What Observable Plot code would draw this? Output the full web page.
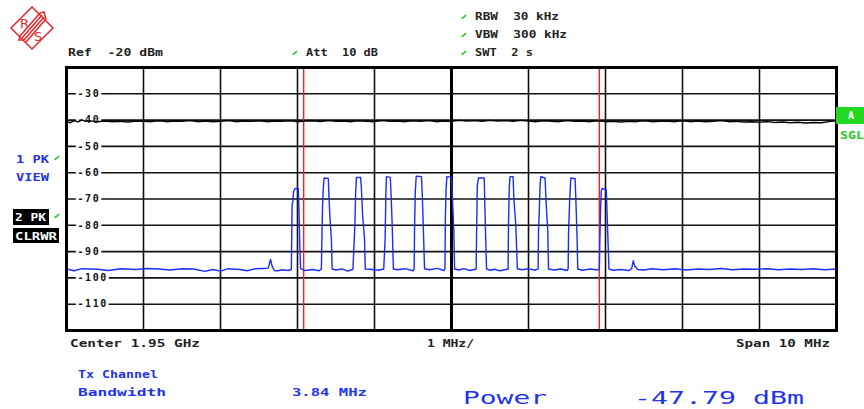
<!DOCTYPE html>
<html>
<head>
<meta charset="utf-8">
<script src="https://cdn.jsdelivr.net/npm/d3@7"></script>
<script src="https://cdn.jsdelivr.net/npm/@observablehq/plot@0.6"></script>
<style>
  html, body { margin: 0; padding: 0; background: #fff; }
  #wrap { position: relative; width: 864px; height: 409px; overflow: hidden; }
  #wrap > svg { position: absolute; left: 0; top: 0; }
</style>
</head>
<body>
<div id="wrap"></div>
<script>
// ---- data ----
const yTicks = [-30, -40, -50, -60, -70, -80, -90, -100, -110];
const xGrid = [-4, -3, -2, -1, 1, 2, 3, 4];          // MHz offset from center
const channelEdges = [-1.92, 1.92];                  // Tx channel 3.84 MHz

// Trace 1 (PK, VIEW) – black, around -40 dBm  [MHz, dBm]
const trace1 = [
  [-5.0,-40.6],[-4.95,-41.0],[-4.9,-40.2],[-4.85,-40.7],[-4.8,-39.9],[-4.75,-40.5],[-4.7,-40.3],[-4.6,-40.6],
  [-4.5,-40.4],[-4.4,-40.6],[-4.3,-40.5],[-4.2,-40.7],[-4.1,-40.4],[-4.0,-40.5],[-3.9,-40.6],[-3.8,-40.3],
  [-3.7,-40.6],[-3.6,-40.4],[-3.5,-40.5],[-3.4,-40.2],[-3.3,-40.6],[-3.2,-40.4],[-3.1,-40.6],[-3.0,-40.5],
  [-2.9,-40.2],[-2.8,-40.6],[-2.7,-40.4],[-2.6,-40.5],[-2.5,-40.3],[-2.4,-40.6],[-2.3,-40.4],[-2.2,-40.5],
  [-2.1,-40.3],[-2.0,-40.6],[-1.9,-40.4],[-1.8,-40.3],[-1.7,-40.6],[-1.6,-40.2],[-1.5,-40.5],[-1.4,-40.4],
  [-1.3,-40.6],[-1.2,-40.3],[-1.1,-40.5],[-1.0,-40.6],[-0.9,-40.2],[-0.8,-40.5],[-0.7,-40.4],[-0.6,-40.6],
  [-0.5,-40.3],[-0.4,-40.5],[-0.3,-40.2],[-0.2,-40.6],[-0.1,-40.4],[0.0,-40.5],[0.1,-40.1],[0.2,-40.4],
  [0.3,-40.2],[0.4,-40.5],[0.5,-40.1],[0.6,-40.4],[0.7,-40.2],[0.8,-40.5],[0.9,-40.1],[1.0,-40.4],
  [1.1,-40.6],[1.2,-40.3],[1.3,-40.5],[1.4,-40.6],[1.5,-40.2],[1.6,-40.5],[1.7,-40.4],[1.8,-40.6],
  [1.9,-40.3],[2.0,-40.6],[2.1,-40.5],[2.2,-40.7],[2.3,-40.5],[2.4,-40.6],[2.5,-40.3],[2.6,-40.6],
  [2.7,-40.5],[2.8,-40.4],[2.9,-40.6],[3.0,-40.3],[3.1,-40.6],[3.2,-40.4],[3.3,-40.6],[3.4,-40.5],
  [3.5,-40.2],[3.6,-40.6],[3.7,-40.5],[3.8,-40.7],[3.9,-40.6],[4.0,-40.8],[4.1,-40.6],[4.2,-40.9],
  [4.3,-40.7],[4.4,-41.0],[4.5,-40.8],[4.6,-41.1],[4.7,-40.9],[4.8,-41.0],[4.9,-40.6],[5.0,-40.3]
];

// Trace 2 (PK, CLRWR) – blue, bursts on a -96.6 dBm floor  [MHz, dBm]
const trace2 = [
  [-5.0,-96.6],[-4.9,-97.3],[-4.8,-96.5],[-4.6,-96.7],[-4.45,-97.2],[-4.3,-96.5],[-4.1,-96.8],[-3.95,-96.4],
  [-3.8,-96.6],[-3.65,-97.0],[-3.5,-96.5],[-3.35,-96.6],[-3.2,-97.5],[-3.1,-96.8],[-3.0,-97.4],[-2.9,-96.5],
  [-2.75,-96.8],[-2.65,-97.3],[-2.55,-96.5],[-2.45,-96.4],[-2.38,-96.3],[-2.35,-93.0],[-2.33,-95.5],[-2.3,-97.2],
  [-2.25,-97.3],[-2.2,-96.9],[-2.12,-97.2],[-2.08,-96.8],
  [-2.07,-72],[-2.06,-71],[-2.05,-67],[-2.03,-66],[-1.99,-66],[-1.98,-75],[-1.97,-88],[-1.96,-96.5],
  [-1.9,-97.2],[-1.8,-96.8],[-1.72,-97.3],[-1.69,-96.6],
  [-1.68,-80],[-1.675,-73],[-1.665,-66],[-1.655,-62],[-1.6,-62.2],[-1.59,-70],[-1.575,-79],[-1.56,-85],[-1.55,-96.6],
  [-1.5,-97.0],[-1.42,-96.6],[-1.35,-97.4],[-1.28,-96.7],
  [-1.255,-80],[-1.245,-68],[-1.235,-61.8],[-1.18,-61.8],[-1.17,-66],[-1.155,-76],[-1.13,-85],[-1.12,-96.6],
  [-1.05,-96.7],[-0.95,-97.1],[-0.88,-96.6],
  [-0.862,-85],[-0.852,-68],[-0.845,-61.5],[-0.795,-61.8],[-0.785,-68],[-0.77,-80],[-0.755,-96.6],
  [-0.7,-96.9],[-0.6,-96.5],[-0.5,-97.3],[-0.485,-96.6],
  [-0.48,-82],[-0.47,-67],[-0.458,-61.3],[-0.39,-61.5],[-0.38,-68],[-0.365,-82],[-0.35,-96.5],
  [-0.28,-96.9],[-0.18,-96.4],[-0.1,-97.2],[-0.085,-96.6],
  [-0.08,-78],[-0.07,-66],[-0.06,-61.5],[0.0,-61.7],[0.01,-68],[0.03,-82],[0.04,-96.6],
  [0.1,-97.0],[0.16,-96.5],[0.24,-97.2],[0.32,-96.6],
  [0.325,-85],[0.335,-65],[0.35,-62],[0.425,-62],[0.435,-75],[0.455,-96.6],
  [0.5,-97.1],[0.56,-96.7],[0.63,-97.3],[0.735,-96.6],
  [0.74,-80],[0.75,-66],[0.76,-61.5],[0.8,-61.5],[0.81,-70],[0.835,-80],[0.855,-96.5],
  [0.92,-96.9],[1.0,-96.5],[1.08,-97.1],[1.125,-96.6],
  [1.13,-82],[1.14,-75],[1.15,-65],[1.16,-61.5],[1.215,-62],[1.23,-72],[1.25,-82],[1.26,-96.6],
  [1.33,-97.0],[1.42,-96.6],[1.5,-97.2],[1.515,-96.6],
  [1.52,-83],[1.535,-70],[1.55,-62],[1.605,-62.3],[1.615,-70],[1.63,-84],[1.64,-96.6],
  [1.7,-97.1],[1.8,-96.6],[1.9,-97.0],[1.92,-96.6],
  [1.925,-88],[1.935,-75],[1.945,-67],[1.955,-66],[2.01,-66.5],[2.02,-75],[2.035,-88],[2.045,-96.6],
  [2.1,-97.1],[2.2,-96.8],[2.3,-97.2],[2.34,-96.5],[2.36,-93.5],[2.38,-95.5],[2.42,-96.8],[2.5,-97.0],
  [2.6,-96.5],[2.75,-96.9],[2.9,-96.5],[3.05,-97.0],[3.2,-96.6],[3.35,-96.8],[3.5,-96.4],[3.65,-96.9],
  [3.8,-96.6],[3.95,-96.7],[4.1,-96.5],[4.25,-96.9],[4.4,-96.6],[4.55,-96.8],[4.7,-96.5],[4.85,-96.9],[5.0,-96.6]
];

// Annotation texts (analyzer screen)
const headerLabels = ["Ref  -20 dBm", "Att  10 dB", "RBW  30 kHz", "VBW  300 kHz", "SWT  2 s"];
const traceLabels = ["1 PK", "VIEW", "2 PK", "CLRWR"];
const footerLabels = ["Center 1.95 GHz", "1 MHz/", "Span 10 MHz"];
const resultLabels = ["Tx Channel", "Bandwidth", "3.84 MHz", "Power", "-47.79 dBm"];

// ---- chart ----
const mono = "DejaVu Sans Mono";
const plot = Plot.plot({
  width: 864,
  height: 409,
  marginLeft: 66,
  marginRight: 28,
  marginTop: 67,
  marginBottom: 79,
  x: { domain: [-5, 5], axis: null },
  y: { domain: [-120, -20], axis: null },
  style: { background: "transparent", fontFamily: mono, letterSpacing: "1.6px" },
  marks: [
    Plot.ruleY(yTicks, { stroke: "#111", strokeWidth: 1.6 }),
    Plot.ruleX(xGrid, { stroke: "#111", strokeWidth: 1.6 }),
    Plot.ruleX([0], { stroke: "#000", strokeWidth: 3 }),
    Plot.text(yTicks, {
      x: -5, y: d => d, text: d => String(d), textAnchor: "start", dx: 11,
      fontSize: 10, fontWeight: "bold", fill: "#111", stroke: "white", strokeWidth: 6,
      fontFamily: mono
    }),
    Plot.ruleX(channelEdges, { stroke: "#ff1a1a", strokeWidth: 1.4 }),
    Plot.line(trace1, { x: d => d[0], y: d => d[1], stroke: "#000", strokeWidth: 1.4 }),
    Plot.line(trace2, { x: d => d[0], y: d => d[1], stroke: "#1a2cff", strokeWidth: 1.4 }),
    Plot.frame({ stroke: "#000", strokeWidth: 3 })
  ]
});
document.getElementById("wrap").appendChild(plot);

// ---- screen annotations overlay ----
const NS = "http://www.w3.org/2000/svg";
const ov = document.createElementNS(NS, "svg");
ov.setAttribute("width", 864); ov.setAttribute("height", 409);
document.getElementById("wrap").appendChild(ov);

function txt(s, x, y, w, opt = {}) {
  const t = document.createElementNS(NS, "text");
  t.setAttribute("x", x); t.setAttribute("y", y);
  t.setAttribute("font-family", opt.family || mono);
  t.setAttribute("font-size", opt.size || 10.5);
  t.setAttribute("font-weight", opt.weight || "bold");
  t.setAttribute("fill", opt.fill || "#222");
  t.style.whiteSpace = "pre";
  if (w) { t.setAttribute("textLength", w); t.setAttribute("lengthAdjust", "spacingAndGlyphs"); }
  t.textContent = s;
  ov.appendChild(t);
}
function rect(x, y, w, h, fill) {
  const r = document.createElementNS(NS, "rect");
  r.setAttribute("x", x); r.setAttribute("y", y); r.setAttribute("width", w); r.setAttribute("height", h);
  r.setAttribute("fill", fill); ov.appendChild(r);
}
function tick(x, y) { // small green enable mark
  const l = document.createElementNS(NS, "path");
  l.setAttribute("d", `M${x},${y + 4} L${x + 1},${y + 2} M${x + 1},${y + 3} L${x + 4},${y}`);
  l.setAttribute("stroke", "#22c922"); l.setAttribute("stroke-width", 1.6); l.setAttribute("fill", "none");
  ov.appendChild(l);
}

// R&S logo
const g = document.createElementNS(NS, "g");
g.setAttribute("stroke", "#e8262b"); g.setAttribute("fill", "none"); g.setAttribute("stroke-width", "1.5");
g.innerHTML = `
  <path d="M32,7 L53,28 L32,49 L11,28 Z"/>
  <path d="M42,15 L22,38 M44,17 L24,40 M46,19 L26,42 M40,13 L20,36"/>
  <path d="M40,13 L44,12 L46,19 M20,36 L19,40 L24,40"/>`;
ov.appendChild(g);
txt("R", 20, 28, null, { fill: "#e8262b", size: 13, weight: "normal", family: "DejaVu Sans" });
txt("S", 34, 41, null, { fill: "#e8262b", size: 13, weight: "normal", family: "DejaVu Sans" });

// header
txt(headerLabels[0], 68, 56, 95);
tick(293, 51); txt(headerLabels[1], 306, 56, 72);
tick(462, 15); txt(headerLabels[2], 475, 20, 84);
tick(462, 33); txt(headerLabels[3], 475, 38, 92);
tick(462, 51); txt(headerLabels[4], 475, 56, 58);

// trace labels (left)
const blue = "#2233ee";
txt(traceLabels[0], 16, 163, 33, { fill: blue }); tick(55, 156);
txt(traceLabels[1], 16, 181, 33, { fill: blue });
rect(13, 209, 36, 16, "#000"); txt(traceLabels[2], 15, 221, 31, { fill: "#fff" }); tick(55, 214);
rect(13, 228, 46, 15, "#000"); txt(traceLabels[3], 15, 240, 42, { fill: "#fff" });

// right side
rect(836, 107, 28, 17, "#22d822"); txt("A", 848, 119, null, { fill: "#fff", size: 10 });
txt("SGL", 840, 139, 24, { fill: "#22c922" });

// footer
txt(footerLabels[0], 70, 347, 130);
txt(footerLabels[1], 427, 347, 47);
txt(footerLabels[2], 736, 347, 94);

// results
txt(resultLabels[0], 78, 378, 80, { fill: blue });
txt(resultLabels[1], 78, 396, 88, { fill: blue });
txt(resultLabels[2], 292, 396, 75, { fill: blue });
txt(resultLabels[3], 463, 404, 84, { fill: blue, size: 18, weight: "normal" });
txt(resultLabels[4], 634, 404, 170, { fill: blue, size: 18, weight: "normal" });
</script>
</body>
</html>
